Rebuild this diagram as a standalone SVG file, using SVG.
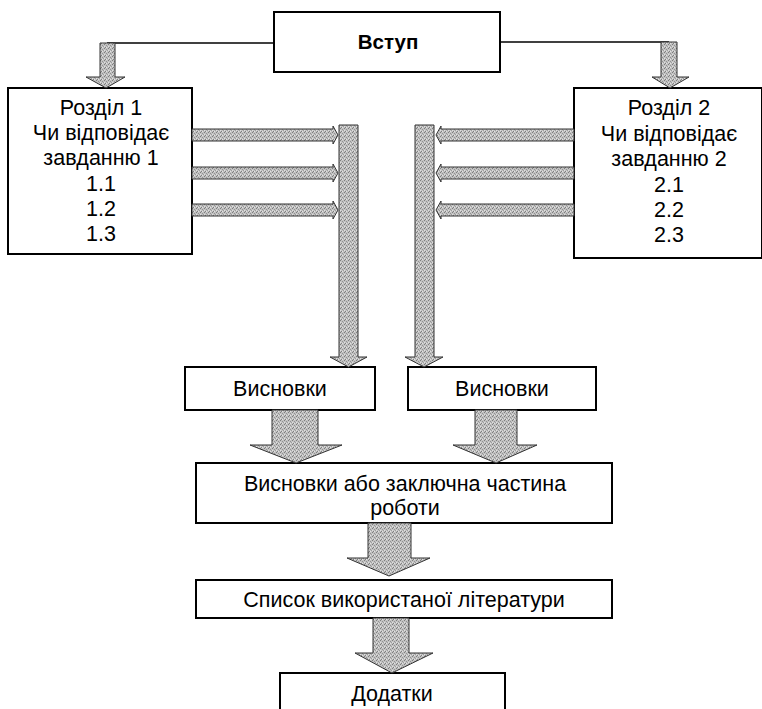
<svg xmlns="http://www.w3.org/2000/svg" width="762" height="709" viewBox="0 0 762 709">
<style>
.box{fill:#fff;stroke:#000;stroke-width:2}
.t{font-family:"Liberation Sans",Arial,sans-serif;font-size:21.5px;fill:#000;text-anchor:middle}
.b{font-weight:bold;font-size:20.5px}
.arr{fill:url(#stip);stroke:#333;stroke-width:1;stroke-linejoin:miter}
.ln{fill:none;stroke:#000;stroke-width:1.6}
</style>
<defs>
<pattern id="stip" width="4" height="4" patternUnits="userSpaceOnUse">
<rect width="4" height="4" fill="#c2c2c2"/>
<rect x="0" y="0" width="1" height="1" fill="#7e7e7e"/>
<rect x="2" y="1" width="1" height="1" fill="#929292"/>
<rect x="1" y="3" width="1" height="1" fill="#808080"/>
<rect x="3" y="2" width="1" height="1" fill="#9c9c9c"/>
<rect x="2" y="3" width="1" height="1" fill="#e2e2e2"/>
<rect x="0" y="2" width="1" height="1" fill="#e0e0e0"/>
</pattern>
</defs>
<rect width="762" height="709" fill="#fff"/>

<g id="vstup"><rect class="box" x="274" y="12" width="226" height="60"/><text class="t b" x="388" y="49">Вступ</text></g>

<g id="rozdil1"><rect class="box" x="8" y="88" width="184" height="166"/>
<text class="t" x="101" y="115">Розділ 1</text>
<text class="t" x="101" y="140">Чи відповідає</text>
<text class="t" x="101" y="165">завданню 1</text>
<text class="t" x="101" y="191">1.1</text>
<text class="t" x="101" y="216">1.2</text>
<text class="t" x="101" y="241">1.3</text></g>

<g id="rozdil2"><rect class="box" x="574" y="88" width="188" height="170"/>
<text class="t" x="669" y="115">Розділ 2</text>
<text class="t" x="669" y="141">Чи відповідає</text>
<text class="t" x="669" y="166">завданню 2</text>
<text class="t" x="669" y="192">2.1</text>
<text class="t" x="669" y="217">2.2</text>
<text class="t" x="669" y="242">2.3</text></g>

<g id="vysnovky1"><rect class="box" x="185" y="367" width="190" height="43"/><text class="t" x="280" y="396">Висновки</text></g>
<g id="vysnovky2"><rect class="box" x="408" y="367" width="188" height="43"/><text class="t" x="502" y="396">Висновки</text></g>

<g id="zakl"><rect class="box" x="196" y="463" width="416" height="60"/>
<text class="t" x="405" y="491">Висновки або заключна частина</text>
<text class="t" x="405" y="515">роботи</text></g>

<g id="spysok"><rect class="box" x="196" y="580" width="416" height="38"/><text class="t" x="404" y="607">Список використаної літератури</text></g>

<g id="dodatky"><rect class="box" x="280" y="673" width="225" height="45"/><text class="t" x="392" y="701">Додатки</text></g>

<g id="connectors">
<path class="ln" d="M274,43 H107"/>
<path class="ln" d="M500,42 H669"/>
<polygon class="arr" points="100,43 115,43 115,77 125,77 106,88 86,77 100,77"/>
<polygon class="arr" points="661,42 677,42 677,77 689,77 670,88 652,77 661,77"/>

<polygon class="arr" points="339,125 358,125 358,357 367,357 348.5,367 330,357 339,357"/>
<polygon class="arr" points="415,125 434,125 434,357 443,357 424,367 405,357 415,357"/>

<polygon class="arr" points="192,129 333,129 333,126 338,135 333,144 333,141 192,141"/>
<polygon class="arr" points="192,167 333,167 333,164 338,173 333,182 333,179 192,179"/>
<polygon class="arr" points="192,204 333,204 333,201 338,210 333,219 333,216 192,216"/>

<polygon class="arr" points="574,129 441,129 441,126 436,135 441,144 441,141 574,141"/>
<polygon class="arr" points="574,167 441,167 441,164 436,173 441,182 441,179 574,179"/>
<polygon class="arr" points="574,204 441,204 441,201 436,210 441,219 441,216 574,216"/>

<polygon class="arr" points="272,410 318,410 318,445 342,445 296,463 250,445 272,445"/>
<polygon class="arr" points="475,410 517,410 517,445 537,445 496,463 453,445 475,445"/>
<polygon class="arr" points="368,523 411,523 411,558 430,558 389,576 347,558 368,558"/>
<polygon class="arr" points="373,618 409,618 409,653 433,653 392,673 355,653 373,653"/>
</g>
</svg>
